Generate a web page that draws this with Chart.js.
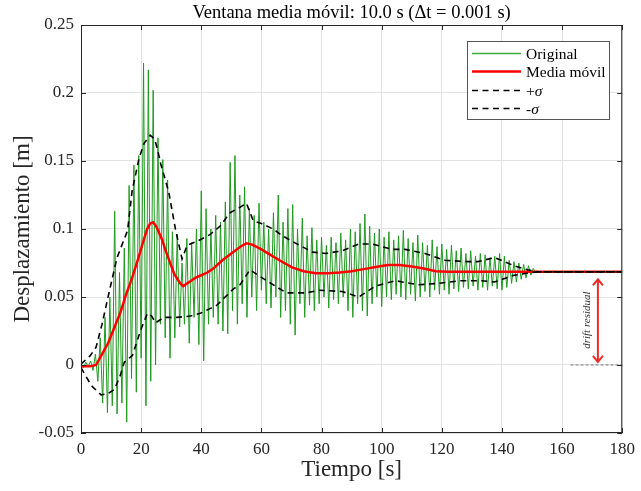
<!DOCTYPE html>
<html>
<head>
<meta charset="utf-8">
<script src="https://cdn.jsdelivr.net/npm/chart.js@4.4.1/dist/chart.umd.min.js"></script>
<style>
  html, body { margin: 0; padding: 0; background: #fff; }
  #wrap { width: 641px; height: 491px; }
</style>
</head>
<body>
<div id="wrap"><canvas id="chart" width="641" height="491"></canvas></div>
<script>
const FONT = "'Liberation Serif', 'Times New Roman', serif";
const TITLE = 'Ventana media móvil: 10.0 s (Δt = 0.001 s)';
const X_LABEL = 'Tiempo [s]';
const Y_LABEL = 'Desplazamiento [m]';

const xTicks = [0, 20, 40, 60, 80, 100, 120, 140, 160, 180];
const xTickLabels = ['0', '20', '40', '60', '80', '100', '120', '140', '160', '180'];
const yTicks = [-0.05, 0, 0.05, 0.1, 0.15, 0.2, 0.25];
const yTickLabels = ['-0.05', '0', '0.05', '0.1', '0.15', '0.2', '0.25'];

// original signal, one sample every 0.8 s (peaks and troughs)
const GREEN_DT = 0.8;
const T_END = 180;
const originalY = [
  0.001, -0.002, 0.002, -0.001, 0.003, -0.004, 0.008, -0.012, 0.02, -0.028,
  0.035, -0.035, 0.05, -0.03, 0.113, -0.036, 0.068, -0.028, 0.086, -0.042,
  0.132, -0.01, 0.147, -0.02, 0.154, 0.005, 0.222, -0.03, 0.217, -0.012,
  0.202, 0.0, 0.167, 0.03, 0.151, 0.02, 0.136, 0.005, 0.098, 0.02,
  0.096, 0.028, 0.075, 0.03, 0.093, 0.016, 0.09, 0.035, 0.1, 0.015,
  0.128, 0.003, 0.115, 0.03, 0.1, 0.035, 0.11, 0.03, 0.105, 0.025,
  0.12, 0.023, 0.149, 0.04, 0.154, 0.03, 0.125, 0.045, 0.131, 0.035,
  0.115, 0.05, 0.11, 0.04, 0.119, 0.055, 0.105, 0.045, 0.1, 0.042,
  0.112, 0.05, 0.125, 0.035, 0.105, 0.04, 0.115, 0.03, 0.118, 0.022,
  0.1, 0.045, 0.108, 0.035, 0.095, 0.044, 0.101, 0.04, 0.092, 0.045,
  0.094, 0.05, 0.088, 0.042, 0.094, 0.048, 0.09, 0.045, 0.097, 0.05,
  0.092, 0.04, 0.1, 0.035, 0.098, 0.045, 0.104, 0.04, 0.111, 0.036,
  0.102, 0.045, 0.097, 0.05, 0.1, 0.043, 0.094, 0.05, 0.098, 0.048,
  0.092, 0.052, 0.095, 0.05, 0.099, 0.048, 0.093, 0.052, 0.09, 0.047,
  0.0955, 0.05, 0.09, 0.054, 0.088, 0.05, 0.092, 0.055, 0.087, 0.052,
  0.089, 0.055, 0.085, 0.052, 0.088, 0.056, 0.084, 0.054, 0.086, 0.057,
  0.082, 0.056, 0.084, 0.058, 0.08, 0.055, 0.082, 0.057, 0.081, 0.055,
  0.079, 0.058, 0.08, 0.056, 0.082, 0.055, 0.08, 0.057, 0.077, 0.06,
  0.076, 0.061, 0.075, 0.063, 0.074, 0.064, 0.073, 0.066, 0.071, 0.068,
  0.0685
];

const maT = [0, 3, 5, 7, 9, 11, 13, 15, 17, 19, 21, 22, 23, 24, 25, 26, 27, 28, 29, 31,
  33, 34, 36, 38, 40, 42, 44, 47, 50, 53, 55, 57, 60, 63, 66, 70, 74, 78, 82, 86,
  90, 94, 98, 102, 106, 110, 114, 118, 122, 126, 130, 140, 150, 160, 180];
const maY = [-0.001, -0.001, 0.0, 0.008, 0.016, 0.027, 0.038, 0.052, 0.064, 0.078,
  0.093, 0.1, 0.104, 0.105, 0.102, 0.097, 0.092, 0.085, 0.079, 0.067,
  0.06, 0.058, 0.061, 0.064, 0.066, 0.068, 0.071, 0.077, 0.082, 0.087,
  0.0895, 0.0885, 0.085, 0.081, 0.077, 0.072, 0.069, 0.0675, 0.0675, 0.068,
  0.069, 0.0705, 0.072, 0.0735, 0.0735, 0.0725, 0.071, 0.069, 0.0685, 0.0685,
  0.0685, 0.0685, 0.0685, 0.0685, 0.0685];

const sigUpT = [0, 3, 5, 7, 9.5, 12, 15.5, 17, 19.3, 21, 23, 24.5, 25.5, 26.5, 29.2,
  31.4, 33.6, 35.3, 38.6, 43, 46.2, 49.6, 52.9, 55, 57.3, 60, 63.9, 67, 71, 77,
  81.4, 86.9, 92.4, 96.8, 103.4, 107.8, 114.4, 121, 128.7, 132, 137.5, 144, 148.5, 152, 180];
const sigUpY = [0.0007, 0.0067, 0.013, 0.03, 0.055, 0.079, 0.099, 0.128, 0.152, 0.163,
  0.169, 0.166, 0.158, 0.148, 0.127, 0.1, 0.078, 0.088, 0.091, 0.096,
  0.102, 0.112, 0.116, 0.119, 0.106, 0.104, 0.1, 0.095, 0.09, 0.083,
  0.082, 0.084, 0.089, 0.089, 0.085, 0.085, 0.082, 0.077, 0.076, 0.076,
  0.079, 0.073, 0.07, 0.0685, 0.0685];

const sigDnT = [0, 3.4, 6.7, 9, 11.1, 13, 14.4, 17.1, 19.9, 22.1, 23.5, 24.8, 27.6, 32,
  36.4, 39.7, 45.2, 50.7, 52.9, 56.2, 61.7, 68.3, 74.8, 79.2, 86.9, 92.4, 97.9,
  104.5, 112.2, 118.8, 126.5, 133.1, 137.5, 144, 149.6, 152, 180];
const sigDnY = [-0.002, -0.015, -0.022, -0.021, -0.018, -0.008, 0.002, 0.007, 0.026, 0.038,
  0.036, 0.031, 0.035, 0.035, 0.036, 0.038, 0.044, 0.056, 0.059, 0.07,
  0.062, 0.053, 0.053, 0.055, 0.054, 0.05, 0.058, 0.062, 0.059, 0.06,
  0.062, 0.062, 0.061, 0.066, 0.068, 0.0685, 0.0685];

// drift annotation
const DRIFT_X = 171.9;
const DRIFT_FROM = 0.0023;
const DRIFT_TO = 0.063;
const DRIFT_TEXT = 'drift residual';
const DRIFT_TEXT_AT = [168.3, 0.033];
const ZERO_REF = [162.8, 180];

const GREEN = '#1f9a1f';
const RED = '#ff0000';
const DARK = '#262626';

const pts = (xs, ys) => xs.map((x, i) => ({ x, y: ys[i] }));
const originalPts = originalY.map((y, i) => ({ x: +(i * GREEN_DT).toFixed(1), y }));
originalPts.push({ x: T_END, y: originalY[originalY.length - 1] });

const legendItems = [
  { parts: [['Original', false]], color: '#3aaa3a', width: 1.3, dash: [] },
  { parts: [['Media móvil', false]], color: RED, width: 2.5, dash: [] },
  { parts: [['+', false], ['σ', true]], color: '#000', width: 1.6, dash: [6, 4.5] },
  { parts: [['-', false], ['σ', true]], color: '#000', width: 1.6, dash: [6, 4.5] },
];

const decor = {
  id: 'decor',
  afterDatasetsDraw(chart) {
    const { ctx, scales: { x, y } } = chart;
    ctx.save();
    ctx.strokeStyle = '#555';
    ctx.lineWidth = 0.8;
    ctx.setLineDash([3, 2]);
    ctx.beginPath();
    ctx.moveTo(x.getPixelForValue(ZERO_REF[0]), y.getPixelForValue(0));
    ctx.lineTo(x.getPixelForValue(ZERO_REF[1]), y.getPixelForValue(0));
    ctx.stroke();
    ctx.setLineDash([]);

    const ax = x.getPixelForValue(DRIFT_X);
    const top = y.getPixelForValue(DRIFT_TO);
    const bot = y.getPixelForValue(DRIFT_FROM);
    ctx.strokeStyle = '#ee2a2a';
    ctx.lineWidth = 2;
    ctx.beginPath();
    ctx.moveTo(ax, top); ctx.lineTo(ax, bot);
    ctx.moveTo(ax - 5, top + 6); ctx.lineTo(ax, top); ctx.lineTo(ax + 5, top + 6);
    ctx.moveTo(ax - 5, bot - 6); ctx.lineTo(ax, bot); ctx.lineTo(ax + 5, bot - 6);
    ctx.stroke();

    ctx.translate(x.getPixelForValue(DRIFT_TEXT_AT[0]), y.getPixelForValue(DRIFT_TEXT_AT[1]));
    ctx.rotate(-Math.PI / 2);
    ctx.font = `italic 11px ${FONT}`;
    ctx.fillStyle = '#333';
    ctx.textAlign = 'center';
    ctx.textBaseline = 'middle';
    ctx.fillText(DRIFT_TEXT, 0, 0);
    ctx.restore();
  },
  afterDraw(chart) {
    const { ctx, chartArea: a, scales: { x, y } } = chart;
    ctx.save();
    // box and inward ticks
    ctx.strokeStyle = DARK;
    ctx.lineWidth = 1;
    ctx.strokeRect(a.left + 0.5, a.top + 0.5, a.right - a.left - 1, a.bottom - a.top - 1);
    ctx.beginPath();
    xTicks.forEach((v) => {
      const px = Math.round(x.getPixelForValue(v)) + 0.5;
      ctx.moveTo(px, a.bottom); ctx.lineTo(px, a.bottom - 5);
      ctx.moveTo(px, a.top); ctx.lineTo(px, a.top + 5);
    });
    yTicks.forEach((v) => {
      const py = Math.round(y.getPixelForValue(v)) + 0.5;
      ctx.moveTo(a.left, py); ctx.lineTo(a.left + 5, py);
      ctx.moveTo(a.right, py); ctx.lineTo(a.right - 5, py);
    });
    ctx.stroke();

    // title
    ctx.fillStyle = '#000';
    ctx.font = `18.5px ${FONT}`;
    ctx.textAlign = 'center';
    ctx.textBaseline = 'middle';
    ctx.fillText(TITLE, (a.left + a.right) / 2, 13);

    // legend
    const bw = 142, bh = 78;
    const bx = Math.round(a.right - 13 - bw), by = Math.round(a.top + 16);
    ctx.fillStyle = '#fff';
    ctx.fillRect(bx, by, bw, bh);
    ctx.strokeStyle = '#555';
    ctx.lineWidth = 1;
    ctx.strokeRect(bx + 0.5, by + 0.5, bw, bh);
    ctx.textAlign = 'left';
    legendItems.forEach((item, i) => {
      const ly = Math.round(by + 12 + i * 18.4) + 0.5;
      ctx.strokeStyle = item.color;
      ctx.lineWidth = item.width;
      ctx.setLineDash(item.dash);
      ctx.beginPath();
      ctx.moveTo(bx + 5, ly); ctx.lineTo(bx + 54, ly);
      ctx.stroke();
      ctx.setLineDash([]);
      let tx = bx + 59;
      ctx.fillStyle = '#000';
      item.parts.forEach(([t, it]) => {
        ctx.font = `${it ? 'italic ' : ''}15.5px ${FONT}`;
        ctx.fillText(t, tx, ly + 1);
        tx += ctx.measureText(t).width;
      });
    });
    ctx.restore();
  },
};

const line = (label, data, color, width, dash, order) => ({
  label, data, borderColor: color, borderWidth: width, borderDash: dash,
  pointRadius: 0, tension: 0, fill: false, order,
});

new Chart(document.getElementById('chart'), {
  type: 'line',
  data: {
    datasets: [
      line('Original', originalPts, GREEN, 1, [], 4),
      line('Media móvil', pts(maT, maY), RED, 2.5, [], 3),
      line('+σ', pts(sigUpT, sigUpY), '#000', 1.6, [6, 4.5], 2),
      line('-σ', pts(sigDnT, sigDnY), '#000', 1.6, [6, 4.5], 1),
    ],
  },
  options: {
    responsive: false,
    animation: false,
    devicePixelRatio: 1,
    layout: { padding: { left: 0, right: 14, top: 25, bottom: 0 } },
    plugins: { legend: { display: false }, tooltip: { enabled: false }, title: { display: false } },
    scales: {
      x: {
        type: 'linear', min: 0, max: 180,
        afterFit: (s) => { s.height = 58; },
        afterBuildTicks: (s) => { s.ticks = xTicks.map((value) => ({ value })); },
        ticks: {
          callback: (v) => xTickLabels[xTicks.indexOf(v)] ?? '',
          font: { family: FONT, size: 17 }, color: DARK, padding: 6, maxRotation: 0,
        },
        grid: { color: '#e2e2e2', drawTicks: false },
        border: { display: false },
        title: { display: true, text: X_LABEL, font: { family: FONT, size: 23 }, color: DARK, padding: { top: 0, bottom: 7 } },
      },
      y: {
        type: 'linear', min: -0.05, max: 0.25,
        afterFit: (s) => { s.width = 81; },
        afterBuildTicks: (s) => { s.ticks = yTicks.map((value) => ({ value })); },
        ticks: {
          callback: (v) => yTickLabels[yTicks.findIndex((t) => Math.abs(t - v) < 1e-9)] ?? '',
          font: { family: FONT, size: 17 }, color: DARK, padding: 7,
        },
        grid: { color: '#e2e2e2', drawTicks: false },
        border: { display: false },
        title: { display: true, text: Y_LABEL, font: { family: FONT, size: 23 }, color: DARK, padding: { top: 9, bottom: 0 } },
      },
    },
  },
  plugins: [decor],
});
</script>
</body>
</html>
